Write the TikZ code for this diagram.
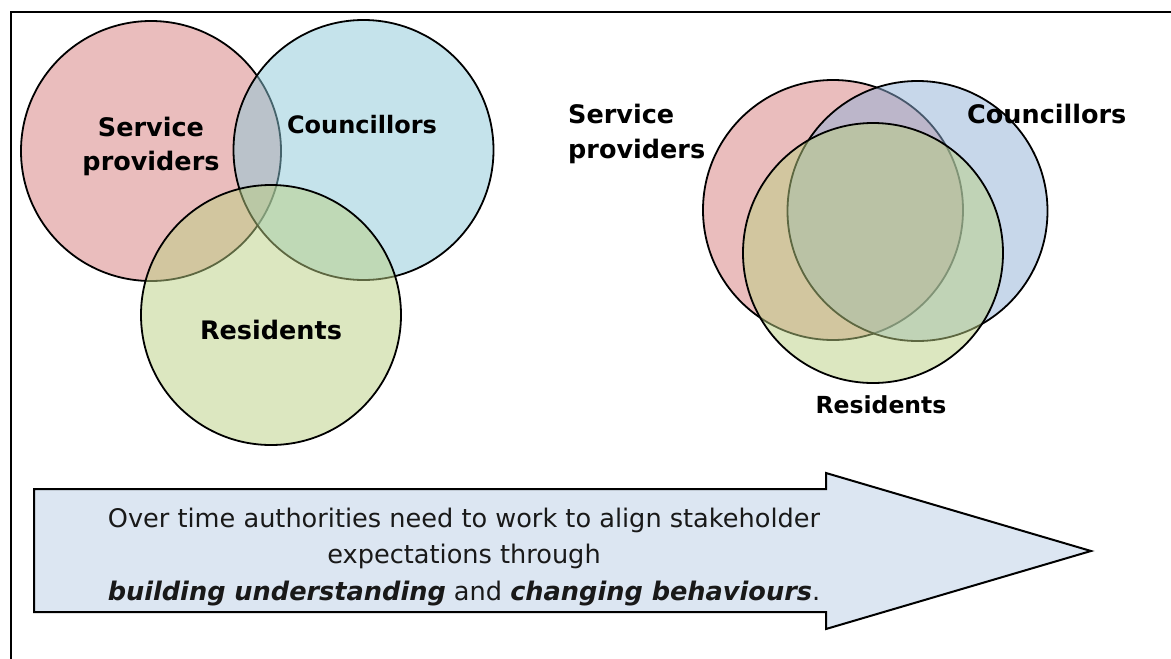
\documentclass[tikz,border=0pt]{standalone}
\usepackage{fontspec}
\setmainfont{DejaVu Sans}
\definecolor{pinkC}{RGB}{214,124,124}
\definecolor{cyanC}{RGB}{139,199,215}
\definecolor{blueC}{RGB}{143,175,214}
\definecolor{greenC}{RGB}{186,207,130}
\definecolor{arrowC}{RGB}{220,230,242}
\tikzset{
  venn/.style={circle, draw=black, line width=1.8pt, fill opacity=0.5, minimum size=260pt, inner sep=0pt, outer sep=0pt},
  lbl/.style={font=\fontsize{25.5}{30}\selectfont\bfseries, inner sep=0pt, text=black},
  lblsmall/.style={font=\fontsize{23.5}{28}\selectfont\bfseries, inner sep=0pt, text=black},
  arrtxt/.style={font=\fontsize{25.6}{36.5}\selectfont, inner sep=0pt, text=black!90, anchor=base},
}
\begin{document}
\begin{tikzpicture}[x=1pt, y=-1pt]
\useasboundingbox (0,0) rectangle (1171,659);
\clip (0,0) rectangle (1171,659);
% frame
\draw[line width=2pt] (11,690) -- (11,12) -- (1200,12);
% left Venn
\node[venn, fill=pinkC] (lsp) at (151,151) {};
\node[venn, fill=cyanC] (lco) at (363.5,150) {};
\node[venn, fill=greenC] (lre) at (271,315) {};
\node[lbl, anchor=base] (lspa) at (151,136) {Service};
\node[lbl, anchor=base] (lspb) at (151,170) {providers};
\node[lbl, anchor=base, font=\fontsize{24}{30}\selectfont\bfseries] (lcot) at (362,133) {Councillors};
\node[lbl, anchor=base] (lret) at (271,339) {Residents};
% right Venn
\node[venn, fill=pinkC] (rsp) at (833,210) {};
\node[venn, fill=blueC] (rco) at (917.5,211) {};
\node[venn, fill=greenC] (rre) at (873,253) {};
\node[lbl, anchor=base west] (rspa) at (568,123) {Service};
\node[lbl, anchor=base west] (rspb) at (568,158) {providers};
\node[lbl, anchor=base west] (rcot) at (967,123) {Councillors};
\node[lblsmall, anchor=base] (rret) at (881,413) {Residents};
% arrow
\draw[line width=2pt, fill=arrowC, line join=miter]
  (34,489) -- (826,489) -- (826,473) -- (1091,551) -- (826,629) -- (826,612) -- (34,612) -- cycle;
\node[arrtxt] (ar1) at (464,527) {Over time authorities need to work to align stakeholder};
\node[arrtxt] (ar2) at (464,563.5) {expectations through};
\node[arrtxt] (ar3) at (464,600) {\textbf{\itshape building understanding} and \textbf{\itshape changing behaviours}.};
\end{tikzpicture}
\end{document}
